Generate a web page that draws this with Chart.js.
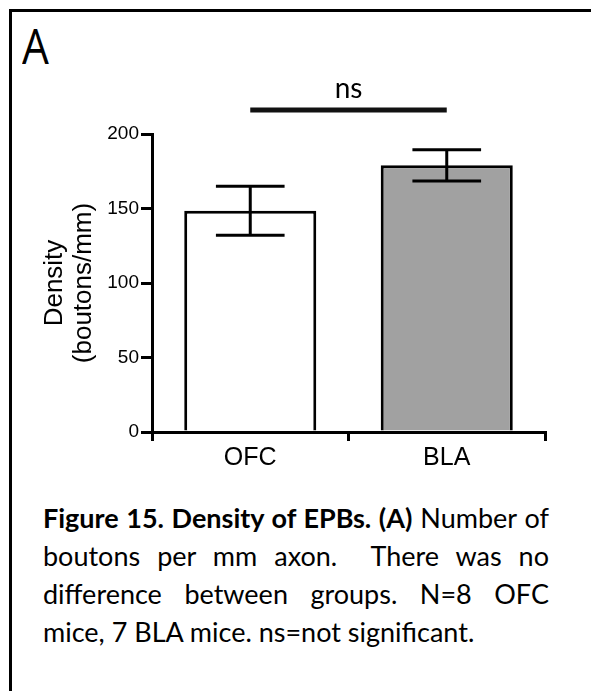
<!DOCTYPE html>
<html>
<head>
<meta charset="utf-8">
<script src="https://cdn.jsdelivr.net/npm/chart.js"></script>
<style>
  html, body { margin: 0; padding: 0; background: #fff; }
  body { width: 591px; height: 691px; position: relative; overflow: hidden; }
  .frame {
    position: absolute; left: 9px; top: 9px; width: 620px; height: 720px;
    border: 3px solid #000; border-bottom: none; box-sizing: border-box;
  }
  .panel {
    position: absolute; left: 22px; top: 20px;
    font-family: "Open Sans", sans-serif; font-size: 50px; line-height: 1;
    transform: scaleX(0.85); transform-origin: left top;
  }
  #chartBox { position: absolute; left: 0; top: 0; width: 591px; height: 480px; }
  .caption {
    position: absolute; left: 43px; top: 499px; width: 506px;
    font-family: Lato, "Noto Sans", sans-serif; font-size: 27px; line-height: 38px; color: #000;
  }
  .caption span { display: block; text-align: justify; text-align-last: justify; white-space: nowrap; }
  .caption span.last { text-align-last: left; }
</style>
</head>
<body>
<div class="frame"></div>
<div class="panel">A</div>
<div id="chartBox"><canvas id="densityChart"></canvas></div>
<div class="caption">
  <span><b>Figure 15. Density of EPBs. (A)</b> Number of</span>
  <span>boutons per mm axon.&nbsp; There was no</span>
  <span>difference between groups. N=8 OFC</span>
  <span class="last">mice, 7 BLA mice. ns=not significant.</span>
</div>
<script>
// 数据
const groups = ['OFC', 'BLA'];
const meanDensity = [148.5, 179];
const semDensity = [16.5, 10.5];
const barColors = ['#ffffff', '#a1a1a1'];
const yTicks = [0, 50, 100, 150, 200];
const sigLabel = 'ns';

// 误差线
const errorBarPlugin = {
    id: 'errorBars',
    afterDatasetsDraw(chart) {
        const ctx = chart.ctx;
        const y = chart.scales.y;
        const meta = chart.getDatasetMeta(0);
        ctx.save();
        ctx.strokeStyle = '#000';
        ctx.lineWidth = 3;
        ctx.lineCap = 'butt';
        meta.data.forEach((bar, i) => {
            const top = y.getPixelForValue(meanDensity[i] + semDensity[i]);
            const bottom = y.getPixelForValue(meanDensity[i] - semDensity[i]);
            const half = bar.width * 0.26;
            ctx.beginPath();
            ctx.moveTo(bar.x, top);
            ctx.lineTo(bar.x, bottom);
            ctx.moveTo(bar.x - half, top);
            ctx.lineTo(bar.x + half, top);
            ctx.moveTo(bar.x - half, bottom);
            ctx.lineTo(bar.x + half, bottom);
            ctx.stroke();
        });
        ctx.restore();
    }
};

// 显著性标记
const sigPlugin = {
    id: 'sigLine',
    afterDraw(chart) {
        const ctx = chart.ctx;
        const x = chart.scales.x;
        const y = chart.scales.y;
        const x0 = x.getPixelForValue(0);
        const x1 = x.getPixelForValue(1);
        const ly = y.getPixelForValue(200) - 24;
        ctx.save();
        ctx.strokeStyle = '#111';
        ctx.lineWidth = 5;
        ctx.beginPath();
        ctx.moveTo(x0, ly);
        ctx.lineTo(x1, ly);
        ctx.stroke();
        ctx.fillStyle = '#000';
        ctx.font = '28px Lato, "Open Sans", sans-serif';
        ctx.textAlign = 'center';
        ctx.textBaseline = 'alphabetic';
        ctx.fillText(sigLabel, (x0 + x1) / 2, ly - 12);
        ctx.restore();
    }
};

const tickFont = { family: '"Liberation Sans", Arial, sans-serif', size: 19 };

new Chart(document.getElementById('densityChart'), {
    type: 'bar',
    data: {
        labels: groups,
        datasets: [{
            data: meanDensity,
            backgroundColor: barColors,
            borderColor: '#000',
            borderWidth: 3,
            borderSkipped: 'bottom',
            barPercentage: 0.672,
            categoryPercentage: 1
        }]
    },
    options: {
        responsive: true,
        maintainAspectRatio: false,
        animation: false,
        layout: { padding: { left: 0, right: 46, top: 134, bottom: 0 } },
        plugins: {
            legend: { display: false },
            tooltip: { enabled: false }
        },
        scales: {
            x: {
                offset: true,
                grid: { display: true, drawOnChartArea: false, drawTicks: true, tickLength: 9, color: '#000', lineWidth: 3 },
                border: { display: true, color: '#000', width: 3 },
                ticks: { color: '#000', padding: 2, font: { family: '"Liberation Sans", Arial, sans-serif', size: 25 } },
                afterFit(scale) { scale.height = 48; }
            },
            y: {
                min: 0,
                max: 200,
                afterBuildTicks(scale) { scale.ticks = yTicks.map(v => ({ value: v })); },
                grid: { display: true, drawOnChartArea: false, drawTicks: true, tickLength: 11, color: '#000', lineWidth: 3 },
                border: { display: true, color: '#000', width: 3 },
                ticks: { color: '#000', padding: 2, font: tickFont },
                title: {
                    display: true,
                    text: ['Density', '(boutons/mm)'],
                    color: '#000',
                    font: { family: '"Liberation Sans", Arial, sans-serif', size: 26, lineHeight: 1.1 },
                    padding: { top: 41, bottom: 0 }
                },
                afterFit(scale) { scale.width = 152; }
            }
        }
    },
    plugins: [errorBarPlugin, sigPlugin]
});
</script>
</body>
</html>
